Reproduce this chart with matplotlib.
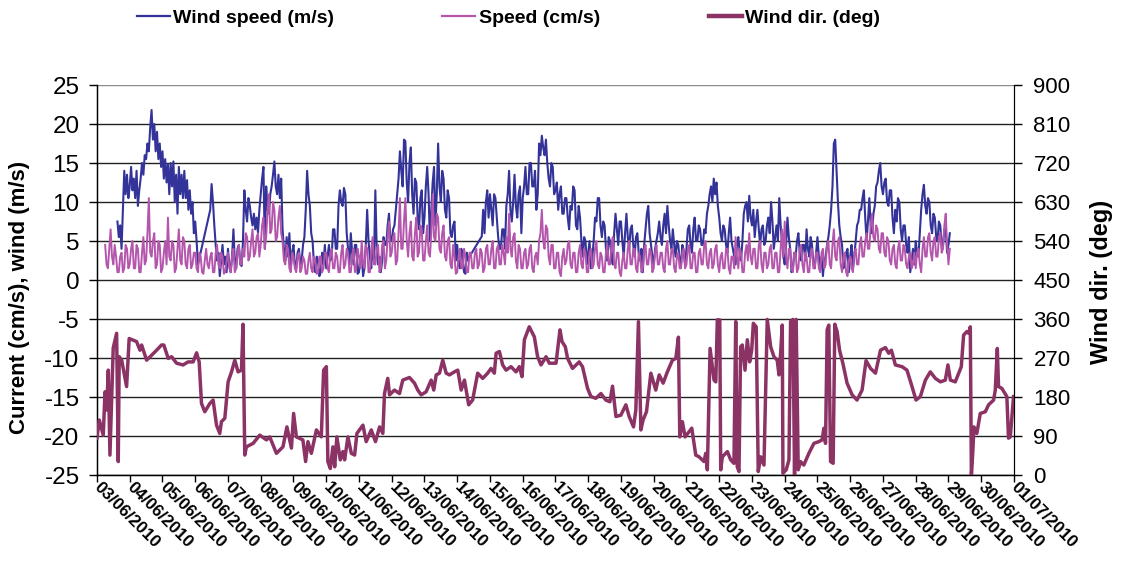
import matplotlib
matplotlib.use("Agg")
import matplotlib.pyplot as plt
from matplotlib.lines import Line2D
from matplotlib.transforms import ScaledTranslation
import numpy as np
import pandas as pd

plt.rcParams['font.family'] = ['Liberation Sans', 'DejaVu Sans']
plt.rcParams['axes.unicode_minus'] = False

nan = np.nan
start = pd.Timestamp('2010-06-03')

# wind speed (m/s), hourly, one row per day starting 03/06
wind_speed = [
    [nan] * 15 + [7.5, 5.5, 7.0, 4.0, 9.0, 14.0, 11.0, 13.5, 10.5],
    [12.0, 14.5, 11.5, 13.0, 10.5, 14.0, 9.5, 11.5, 13.0, 15.0, 13.5, 16.0,
     15.5, 17.5, 16.5, 19.5, 21.8, 18.0, 20.0, 16.5, 19.0, 15.5, 17.5, 14.5],
    [16.5, 13.0, 15.5, 12.5, 14.8, 11.0, 15.0, 12.0, 15.2, 10.0, 13.5, 8.5,
     14.5, 11.0, 13.5, 10.5, 14.0, 10.5, 12.8, 9.0, 11.5, 8.5, 10.0, 6.0],
    [7.5, 5.0, 2.0] + [nan] * 8 + [9.0, 12.3, 10.0, 7.0, 4.5, 2.5, 3.5, 0.5,
                                   2.5, 4.5, 2.0, 3.0, 1.0],
    [4.0, 2.0, 1.0, 3.0, 6.5, 2.5, 1.5, 4.0, 4.5, 2.0, 1.8, 5.0,
     11.5, 9.0, 7.5, 10.5, 9.5, 8.0, 7.0, 8.5, 6.5, 8.0, 6.0, 9.0],
    [11.0, 13.0, 14.5, 4.0, 12.0, 9.0, 8.5, 11.0, 12.0, 13.5, 15.2, 12.0,
     11.0, 13.5, 10.5, 13.0, 6.5, 4.0, 2.5, 5.5, 3.0, 6.0, 1.5, 3.5],
    [4.5, 2.0, 1.5, 3.5, 4.0, 2.0, 2.5, 4.5, 5.5, 9.0, 14.0, 11.0,
     9.5, 6.0, 5.0, 2.0, 1.0, 3.0, 2.5, 0.5, 1.0, 3.5, 2.0, 4.5],
    [1.5, 3.0, 4.5, 2.5, 3.0, 6.5, 6.5, 4.0, 4.0, 9.5, 11.5, 10.0,
     9.5, 11.8, 11.0, 6.0, 4.0, 2.0, 6.0, 3.5, 2.0, 4.5, 4.5, 0.8],
    [1.0, 3.0, 3.5, 0.5, 1.5, 4.5, 9.0, 5.0, 3.0, 1.5, 5.0, 2.5,
     11.5, 4.0, 2.0, 3.0, 1.0, 2.5, 5.5, 4.5, 4.5, 7.0, 8.5, 5.0],
    [5.0, 6.5, 7.0, 9.0, 11.0, 13.0, 16.5, 14.0, 12.0, 18.0, 17.8, 12.5,
     10.0, 15.0, 17.0, 11.0, 8.5, 13.0, 12.5, 8.0, 6.5, 10.5, 11.5, 6.0],
    [8.0, 12.0, 14.5, 11.0, 5.0, 9.0, 12.5, 14.5, 7.0, 11.0, 17.5, 12.0,
     10.0, 14.0, 13.0, 9.0, 8.0, 11.5, 10.5, 6.0, 5.5, 7.0, 7.5, 2.5],
    [4.5, 2.0, 1.5, 4.0, 3.0, 1.0, 0.8, 3.5, 2.5, 3.0] + [nan] * 8
    + [5.6, 9.0, 6.0, 10.0, 11.5, 8.0],
    [11.0, 9.0, 7.0, 11.0, 10.5, 8.0, 5.5, 4.0, 4.0, 6.5, 6.5, 4.0,
     9.5, 11.0, 14.0, 9.0, 7.5, 10.0, 13.5, 9.5, 8.0, 11.0, 12.0, 6.0],
    [10.5, 12.0, 14.5, 11.0, 11.0, 15.0, 15.0, 12.0, 12.0, 14.0, 9.0, 11.0,
     17.5, 16.0, 18.5, 17.0, 16.0, 18.0, 15.0, 13.0, 12.0, 15.0, 14.5, 11.0],
    [11.5, 12.5, 9.0, 11.0, 12.0, 8.5, 8.5, 10.5, 10.5, 8.0, 6.5, 9.5,
     9.0, 12.0, 11.5, 7.0, 6.5, 9.5, 8.0, 5.0, 3.0, 5.5, 5.0, 2.0],
    [3.5, 5.0, 1.5, 3.0, 5.0, 8.0, 7.5, 10.5, 10.5, 7.0, 5.5, 7.5,
     7.0, 4.0, 2.5, 5.5, 5.0, 3.0, 2.0, 6.0, 8.5, 6.5, 4.5, 7.5],
    [7.5, 5.0, 3.0, 6.0, 8.5, 5.5, 4.0, 6.5, 7.0, 4.5, 3.0, 5.5,
     6.0, 3.5, 2.5, 4.0, 1.0, 4.5, 6.5, 8.5, 9.5, 6.0, 4.5, 3.0],
    [2.0, 4.0, 5.0, 6.0, 7.5, 5.5, 4.5, 7.0, 8.5, 6.0, 9.5, 7.0,
     5.0, 4.0, 6.5, 4.5, 3.0, 5.0, 4.5, 2.5, 2.0, 4.5, 3.5, 2.0],
    [4.0, 6.5, 7.0, 4.5, 3.5, 6.5, 8.0, 5.0, 5.0, 7.0, 6.5, 4.5,
     4.5, 6.5, 6.0, 8.5, 9.5, 11.0, 12.0, 10.0, 13.0, 11.0, 12.5, 9.5],
    [8.0, 6.0, 5.0, 7.0, 6.5, 4.5, 3.5, 6.0, 8.0, 5.0, 4.0, 3.0,
     2.0, 4.5, 5.5, 3.5, 2.5, 5.0, 8.5, 9.5, 10.0, 7.5, 10.8, 8.0],
    [7.0, 9.0, 5.5, 7.5, 9.0, 6.5, 4.5, 6.5, 7.0, 4.5, 5.0, 7.0,
     8.0, 6.0, 10.0, 7.5, 4.0, 5.5, 7.0, 5.0, 10.5, 7.0, 5.0, 3.0],
    [2.0, 4.5, 8.0, 5.5, 4.0, 1.0, 1.5, 3.5, 3.0, 5.0, 6.0, 3.5,
     2.5, 4.5, 4.5, 2.5, 6.5, 4.0, 3.0, 5.5, 4.5, 2.0, 1.5, 3.5],
    [5.5, 3.0, 1.5, 3.0, 0.5, 2.5, 3.0, 4.5, 5.5, 7.0, 9.0, 12.0,
     17.5, 18.0, 14.0, 10.0, 7.0, 5.5, 4.5, 1.5, 2.0, 3.5, 4.0, 1.0],
    [3.0, 4.5, 1.5, 3.0, 5.0, 7.0, 7.5, 9.0, 9.0, 10.5, 11.5, 8.0,
     5.0, 7.5, 10.5, 7.0, 6.0, 8.5, 9.5, 12.0, 12.5, 14.0, 15.0, 12.0],
    [11.0, 12.5, 13.0, 10.0, 9.5, 11.5, 11.5, 8.0, 6.0, 9.0, 7.5, 10.5,
     10.0, 6.5, 5.0, 7.0, 7.0, 4.5, 3.5, 5.5, 1.0, 2.5, 4.0, 2.0],
    [5.0, 3.5, 3.0, 6.0, 9.0, 11.0, 12.2, 9.5, 8.5, 10.5, 10.0, 7.0,
     6.0, 8.5, 8.0, 5.5, 5.0, 7.5, 7.0, 4.5, 4.5, 6.5, 6.5, 3.5],
    [4.5, 6.0],
]

# current speed (cm/s), hourly
current_speed = [
    [nan] * 6 + [4.5, 2.0, 1.5, 4.0, 6.5, 3.0, 2.0, 4.5, 3.0, 1.0, 1.0, 3.0,
                 3.5, 1.0, 1.5, 4.5, 4.0, 1.5],
    [2.0, 4.0, 5.0, 1.5, 1.5, 4.5, 4.0, 1.0, 1.0, 3.5, 5.5, 2.0,
     2.5, 6.0, 10.5, 3.5, 3.0, 5.0, 6.0, 1.5, 2.0, 5.0, 4.5, 1.0],
    [1.5, 3.5, 5.0, 2.0, 8.0, 3.0, 2.5, 5.0, 4.5, 1.0, 1.5, 4.0,
     6.5, 2.5, 2.0, 5.5, 5.0, 2.0, 1.5, 4.0, 4.5, 1.5, 2.0, 3.5],
    [3.5, 1.5, 1.0, 3.5, 3.0, 1.0, 0.8, 2.5, 4.0, 2.0, 1.5, 3.0,
     3.5, 1.0, 1.0, 3.5, 4.5, 2.0, 1.5, 3.5, 3.0, 0.8, 1.0, 2.5],
    [3.5, 1.5, 1.0, 3.0, 4.0, 1.0, 1.5, 3.5, 4.5, 2.0, 2.0, 4.0,
     3.0, 6.0, 5.5, 2.5, 3.0, 5.0, 6.5, 3.0, 3.5, 5.5, 6.0, 3.0],
    [4.5, 7.0, 8.0, 4.0, 5.5, 9.0, 11.0, 6.0, 6.5, 10.0, 9.0, 5.0,
     5.5, 8.0, 9.5, 6.0, 5.0, 2.5, 2.0, 4.5, 4.0, 1.5, 1.0, 3.5],
    [3.0, 1.5, 1.0, 3.0, 3.5, 1.0, 1.5, 3.0, 2.5, 0.8, 0.8, 2.5,
     3.5, 1.5, 1.0, 3.0, 2.5, 0.8, 1.0, 3.0, 3.0, 1.0, 1.5, 3.5],
    [3.5, 1.5, 1.0, 3.5, 4.0, 1.5, 1.5, 3.5, 3.0, 1.0, 1.0, 3.5,
     4.5, 1.5, 2.0, 4.0, 3.5, 1.0, 1.0, 3.0, 4.0, 1.0, 1.5, 4.0],
    [3.0, 1.5, 5.0, 2.0, 1.5, 4.5, 4.0, 1.0, 1.0, 4.0, 5.5, 2.0,
     2.0, 4.0, 4.5, 1.0, 1.5, 4.5, 5.0, 1.5, 2.5, 5.5, 7.5, 3.0],
    [3.5, 5.5, 6.0, 2.0, 2.5, 6.0, 10.5, 4.0, 4.0, 7.5, 10.5, 5.0,
     3.0, 6.0, 7.5, 3.0, 2.5, 6.0, 8.0, 3.0, 3.5, 7.0, 6.5, 2.5],
    [2.5, 5.0, 7.0, 3.5, 3.0, 6.0, 11.0, 5.5, 5.0, 8.5, 8.0, 4.0,
     3.5, 6.0, 7.0, 3.0, 2.5, 5.0, 5.5, 2.0, 1.5, 4.5, 3.0, 0.8],
    [1.0, 3.0, 4.0, 1.5, 1.5, 4.0, 3.0, 1.0, 1.0, 3.5, 3.5, 1.5,
     1.5, 3.5, 4.0, 1.5, 2.0, 4.0, 3.5, 1.0, 1.5, 4.0, 4.5, 2.0],
    [2.0, 4.0, 5.0, 1.5, 1.5, 4.0, 4.5, 2.0, 2.0, 4.5, 3.5, 2.0,
     5.5, 3.5, 8.5, 4.0, 3.0, 5.5, 6.0, 2.5, 1.5, 4.5, 4.0, 1.5],
    [1.5, 3.5, 4.0, 1.5, 2.0, 4.0, 4.5, 1.5, 1.0, 3.0, 3.5, 2.0,
     5.0, 6.0, 9.0, 5.0, 4.0, 7.0, 6.5, 3.0, 2.0, 4.5, 4.5, 1.5],
    [1.5, 3.5, 3.5, 1.0, 0.5, 3.0, 4.0, 2.0, 2.5, 4.5, 5.0, 2.0,
     1.5, 3.5, 3.5, 1.0, 1.0, 3.5, 4.5, 2.0, 1.5, 4.0, 3.5, 1.0],
    [1.0, 3.5, 4.0, 1.5, 2.0, 4.0, 5.0, 2.0, 1.5, 3.5, 3.0, 1.0,
     1.0, 3.5, 4.5, 2.0, 2.0, 4.5, 5.5, 2.0, 1.5, 3.5, 3.5, 1.0],
    [0.5, 2.5, 3.5, 1.5, 1.5, 4.0, 5.0, 2.0, 2.0, 4.0, 4.0, 1.5,
     1.0, 3.5, 3.0, 1.0, 1.5, 4.0, 4.5, 2.0, 2.0, 4.0, 3.5, 1.0],
    [1.5, 3.5, 4.5, 2.0, 2.0, 3.5, 3.5, 1.5, 1.0, 4.0, 5.0, 2.0,
     2.0, 4.0, 4.0, 1.5, 1.0, 3.0, 3.5, 1.5, 1.5, 3.5, 4.0, 1.5],
    [2.0, 4.0, 4.5, 1.5, 1.5, 3.5, 3.5, 1.0, 1.0, 3.5, 4.0, 2.0,
     2.0, 4.5, 5.0, 2.0, 1.5, 3.5, 4.0, 1.5, 2.0, 4.0, 4.5, 2.0],
    [1.0, 3.0, 3.5, 1.5, 1.5, 4.0, 4.0, 1.5, 0.8, 3.0, 3.0, 1.5,
     5.5, 3.0, 1.5, 4.0, 3.5, 1.0, 1.0, 3.5, 4.5, 2.5, 6.0, 3.0],
    [2.0, 4.0, 4.0, 1.5, 1.5, 4.5, 5.0, 2.0, 1.0, 3.5, 3.5, 1.5,
     2.0, 4.0, 4.5, 1.5, 1.5, 3.5, 3.5, 1.0, 1.0, 4.0, 6.5, 3.0],
    [7.5, 3.0, 1.5, 4.0, 4.0, 1.5, 1.0, 3.5, 3.5, 1.0, 1.5, 4.0,
     4.5, 2.0, 1.0, 3.5, 3.0, 1.0, 1.0, 3.5, 4.0, 1.5, 1.5, 3.5],
    [3.5, 1.5, 1.0, 3.5, 4.0, 1.5, 2.0, 4.5, 5.0, 2.0, 1.5, 4.5,
     6.5, 3.0, 2.5, 5.0, 5.5, 2.0, 1.0, 3.0, 3.5, 1.0, 0.5, 2.5],
    [3.0, 1.5, 1.0, 3.5, 4.0, 2.0, 2.0, 4.5, 5.5, 3.0, 3.0, 5.0,
     6.0, 4.0, 4.0, 7.0, 8.5, 5.5, 5.0, 7.0, 6.5, 4.0, 3.5, 6.0],
    [6.0, 3.5, 3.0, 5.5, 5.0, 2.5, 2.0, 4.0, 4.5, 2.0, 1.5, 4.0,
     5.0, 2.5, 2.5, 4.5, 4.0, 2.0, 1.5, 3.0, 3.5, 1.5, 2.0, 3.5],
    [1.5, 3.5, 4.0, 2.0, 1.0, 4.0, 5.5, 3.0, 3.0, 5.5, 6.0, 3.5,
     2.5, 5.0, 5.5, 3.0, 3.0, 5.5, 6.0, 3.5, 4.0, 7.0, 8.5, 4.5],
    [2.0, 4.0],
]

# wind direction (deg): hours after 03/06 00:00 and direction
dir_hours = [
    0, 1.7, 4.6, 5.9, 7.1, 8.3, 9.5, 10.8, 11.9, 14.4, 15.6, 16.3, 18.1, 21.7,
    23.6, 29.0, 31.5, 32.7, 36.4, 43.7, 47.3, 49.0, 52.2, 54.7, 58.3, 63.1,
    66.8, 70.5, 73.0, 74.9, 76.6, 79.0, 82.7, 85.1, 87.6, 90.0, 91.2, 93.7,
    96.1, 98.6, 101.0, 103.4, 105.9, 107.0, 108.3, 109.5, 114.4, 119.3, 124.2,
    126.6, 131.5, 136.3, 139.2, 142.5, 144.1, 146.1, 150.9, 152.9, 154.6,
    157.1, 160.8, 164.4, 166.1, 168.1, 169.2, 171.0, 172.9, 174.2, 175.8,
    178.3, 180.2, 181.5, 183.9, 186.4, 188.8, 190.5, 194.9, 197.3, 201.0,
    204.1, 207.1, 209.5, 210.7, 213.1, 214.4, 218.0, 221.7, 224.1, 229.0,
    232.7, 235.1, 237.6, 241.2, 244.9, 246.8, 248.6, 251.0, 253.4, 255.9,
    258.3, 261.9, 264.4, 266.9, 269.3, 272.4, 275.3, 279.0, 282.7, 286.3,
    288.8, 291.2, 292.5, 294.9, 297.3, 299.8, 303.4, 307.1, 309.5, 311.5,
    313.2, 316.8, 320.5, 322.9, 325.4, 329.1, 331.5, 336.4, 339.3, 340.8,
    343.2, 344.9, 348.5, 353.4, 355.8, 359.5, 362.0, 365.6, 369.3, 372.9,
    375.9, 377.8, 380.3, 383.9, 387.6, 390.0, 393.2, 394.9, 396.8, 398.6,
    400.2, 402.7, 405.9, 409.5, 412.0, 414.9, 418.0, 421.7, 424.2, 426.1,
    427.1, 429.0, 431.0, 435.9, 438.8, 441.2, 444.9, 446.1, 447.3, 449.3,
    452.2, 453.5, 454.6, 456.4, 457.1, 458.3, 462.0, 464.4, 466.8, 468.1,
    469.2, 470.5, 471.7, 472.9, 474.9, 476.6, 478.3, 479.8, 481.0, 483.1,
    484.6, 486.4, 488.8, 491.2, 493.7, 496.1, 498.5, 499.8, 501.0, 502.2,
    502.7, 505.1, 507.1, 508.3, 510.0, 511.2, 512.4, 513.9, 515.6, 518.0,
    521.7, 525.4, 529.0, 531.4, 532.7, 533.9, 535.1, 536.3, 537.6, 539.5,
    540.7, 542.4, 544.2, 546.6, 549.7, 553.4, 557.0, 560.7, 563.6, 566.9,
    570.5, 574.2, 577.8, 580.2, 582.2, 585.1, 590.0, 593.6, 597.3, 600.2,
    603.4, 607.1, 610.7, 614.4, 618.1, 621.7, 623.6, 625.4, 629.0, 633.4,
    635.1, 637.5, 638.8, 640.0, 640.8, 641.7, 642.7, 644.8, 647.3, 651.0,
    653.4, 657.1, 658.3, 659.8, 660.7, 663.1, 666.8, 668.0, 669.3, 671.7,
]
dir_deg = [
    85, 127, 92, 192, 150, 242, 46, 181, 293, 327, 31, 273, 265, 204,
    315, 308, 288, 300, 265, 288, 300, 300, 269, 273, 258, 254,
    261, 261, 282, 261, 165, 146, 165, 173, 115, 96, 123, 131,
    215, 238, 265, 238, 242, 348, 46, 65, 73, 92, 81,
    88, 50, 65, 111, 62, 142, 88, 81, 31, 77,
    50, 104, 88, 242, 250, 31, 15, 65, 19, 88,
    35, 54, 35, 88, 50, 46, 96, 115, 77, 104,
    77, 111, 96, 188, 223, 185, 196, 188, 219, 225,
    212, 196, 185, 192, 219, 196, 231, 235, 265, 235,
    231, 238, 242, 196, 219, 162, 173, 235, 223, 235,
    246, 235, 281, 285, 254, 242, 250, 238, 250, 227,
    312, 342, 319, 273, 254, 273, 258, 258, 335, 308,
    296, 269, 246, 261, 250, 200, 181, 177, 188, 173,
    169, 205, 135, 138, 162, 135, 111, 150, 354, 104,
    127, 146, 235, 196, 231, 212, 238, 265, 269, 318,
    88, 123, 88, 108, 46, 42, 31, 50, 12, 292,
    219, 215, 358, 358, 12, 42, 54, 35, 27, 354,
    19, 8, 296, 300, 242, 312, 261, 288, 350, 342,
    8, 42, 23, 359, 296, 273, 265, 231, 281, 346,
    4, 12, 35, 354, 359, 0, 359, 12, 31, 23,
    50, 73, 77, 81, 108, 73, 335, 346, 31, 27,
    348, 331, 288, 258, 212, 185, 173, 196, 264, 246,
    235, 288, 294, 281, 288, 254, 250, 242, 204, 173,
    181, 219, 238, 223, 215, 219, 254, 219, 215, 250,
    323, 331, 327, 342, 0, 46, 111, 96, 142, 146,
    162, 173, 196, 292, 204, 200, 181, 85, 88, 181,
]

day_ticks = pd.date_range('2010-06-03', '2010-07-01', freq='D')
left_ticks = list(range(-25, 26, 5))
right_ticks = list(range(0, 901, 90))

blue = '#333399'
pink = '#b556ad'
plum = '#8c3366'


def series(rows):
    vals = pd.Series(np.concatenate([np.asarray(r, dtype=float) for r in rows]))
    vals.index = start + pd.to_timedelta(np.arange(len(vals)), unit='h')
    # missing samples are bridged by the line, as in the logger export
    return vals.dropna()


ws = series(wind_speed)
cs = series(current_speed)
dir_time = start + pd.to_timedelta(dir_hours, unit='h')

fig = plt.figure(figsize=(11.25, 5.63), dpi=100)
ax = fig.add_axes([0.0862, 0.1563, 0.8151, 0.6927])

ax.plot(ws.index, ws.values, color=blue, lw=1.5, zorder=3)
ax.plot(cs.index, cs.values, color=pink, lw=1.4, zorder=4)

ax.set_ylim(-25, 25)
ax.set_yticks(left_ticks)
ax.set_yticklabels([str(v) for v in left_ticks])
ax.set_xlim(day_ticks[0], day_ticks[-1])
ax.set_xticks(day_ticks)
ax.set_xticklabels([d.strftime('%d/%m/%Y') for d in day_ticks],
                   rotation=-45, ha='left', va='center',
                   rotation_mode='anchor', fontweight='bold', fontsize=12.3)
shift = ScaledTranslation(9.5 / 72, -24 / 72, fig.dpi_scale_trans)
for lab in ax.get_xticklabels():
    lab.set_transform(lab.get_transform() + shift)

ax.grid(axis='y', color='#222222', lw=1.0, zorder=0)
ax.get_ygridlines()[-1].set_color('#8a8a8a')
ax.spines['top'].set_visible(False)
for side in ('left', 'bottom'):
    ax.spines[side].set_color('black')
    ax.spines[side].set_linewidth(1.0)
ax.tick_params(axis='y', direction='out', length=6, width=1, pad=6.5,
               labelsize=17.5)
ax.tick_params(axis='x', direction='out', length=5, width=1, pad=2)

ax.set_ylabel('Current (cm/s), wind (m/s)', fontweight='bold', fontsize=16)
ax.yaxis.set_label_coords(-0.073, 0.456)

ax2 = ax.twinx()
ax2.plot(dir_time, dir_deg, color=plum, lw=2.5, zorder=5,
         solid_joinstyle='round')
ax2.set_ylim(0, 900)
ax2.set_yticks(right_ticks)
ax2.set_yticklabels([str(v) for v in right_ticks])
ax2.spines['top'].set_visible(False)
ax2.spines['right'].set_color('black')
ax2.tick_params(axis='y', direction='out', length=6, width=1, pad=8,
                labelsize=16)
ax2.set_ylabel('Wind dir. (deg)', fontweight='bold', fontsize=17)
ax2.yaxis.set_label_coords(1.083, 0.495)

handles = [
    Line2D([], [], color=blue, lw=1.6),
    Line2D([], [], color=pink, lw=1.6),
    Line2D([], [], color=plum, lw=3.2),
]
fig.legend(handles, ['Wind speed (m/s)', 'Speed (cm/s)', 'Wind dir. (deg)'],
           loc='center', bbox_to_anchor=(0.452, 0.968), ncol=3,
           frameon=False, prop={'weight': 'bold', 'size': 14},
           handlelength=1.7, handletextpad=0.2, columnspacing=5.55)

fig.savefig('out.png', dpi=100)
